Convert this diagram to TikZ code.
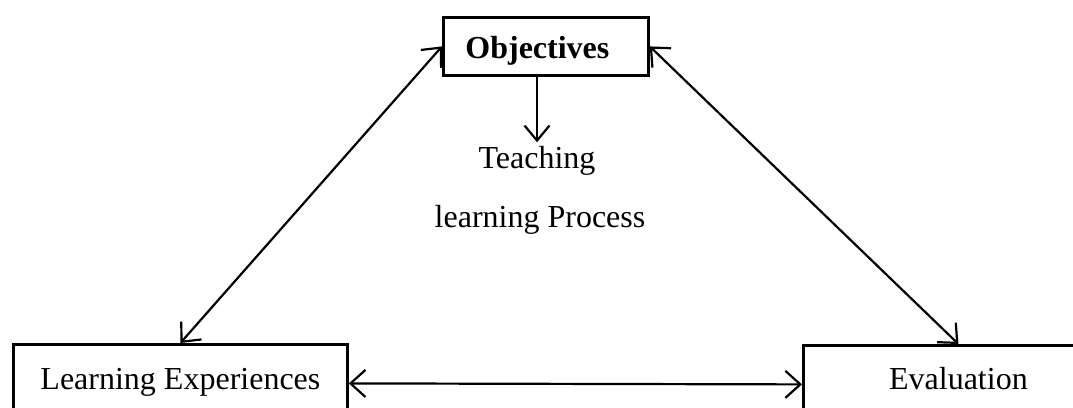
\documentclass[tikz,border=0pt]{standalone}
\usepackage{fontspec}
\setmainfont{Liberation Serif}
\usetikzlibrary{arrows.meta}
\begin{document}
\begin{tikzpicture}[x=1pt,y=-1pt,
  box/.style={draw, line width=2.8pt, inner sep=0pt, anchor=north west,
    font=\fontsize{32}{38}\selectfont},
  txt/.style={anchor=base, font=\fontsize{32}{38}\selectfont},
  both/.style={line width=2.2pt, {Straight Barb[length=15pt,width=27pt]}-{Straight Barb[length=15pt,width=27pt]}},
  one/.style={line width=2.2pt, -{Straight Barb[length=15pt,width=25pt]}}
]
\useasboundingbox (0,0) rectangle (1073,407);
\node[box, minimum width=205pt, text height=41pt, text depth=17pt,
  font=\fontsize{32}{38}\selectfont\bfseries] (obj) at (442,16) {\hspace*{-17pt}Objectives};
\node[box, minimum width=334pt, text height=45pt, text depth=33pt] (le) at (12,343) {Learning Experiences};
\node[box, minimum width=310pt, text height=44pt, text depth=34pt] (ev) at (802,344) {Evaluation};
\node[txt] (t1) at (537,168) {Teaching};
\node[txt] (t2) at (540,227) {learning Process};
\draw[both] (obj.west) -- (le.north);
\draw[both] (obj.east) -- (ev.north);
\draw[both] (le.east) -- (ev.west);
\draw[one] (t1.north |- obj.south) -- (t1.north);
\end{tikzpicture}
\end{document}
